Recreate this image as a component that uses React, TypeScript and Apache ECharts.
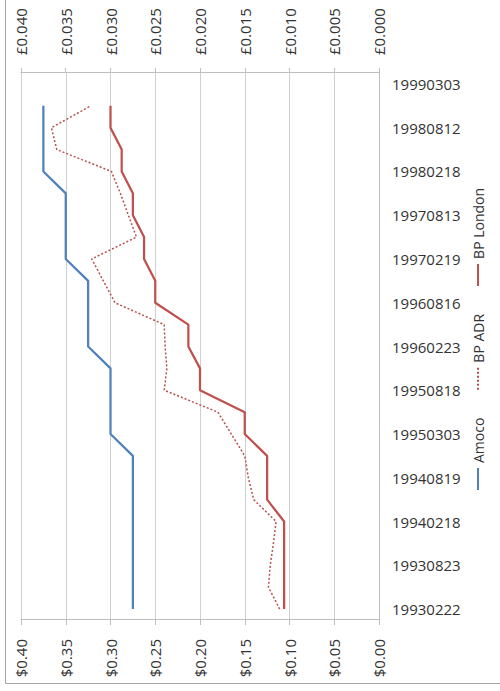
import React, { useEffect, useRef } from "react";
import * as echarts from "echarts";

const categories = [
  "19930222", "19930524", "19930823", "19931122", "19940218", "19940517",
  "19940819", "19941117", "19950303", "19950530", "19950818", "19951117",
  "19960223", "19960520", "19960816", "19961115", "19970219", "19970516",
  "19970813", "19971114", "19980218", "19980515", "19980812", "19981113",
  "19990303",
];

const amoco = [
  0.275, 0.275, 0.275, 0.275, 0.275, 0.275, 0.275, 0.275,
  0.3, 0.3, 0.3, 0.3,
  0.325, 0.325, 0.325, 0.325,
  0.35, 0.35, 0.35, 0.35,
  0.375, 0.375, 0.375, 0.375,
  null,
];

const bpAdr = [
  0.111, 0.1235, 0.1215, 0.118, 0.115, 0.14, 0.146, 0.15, 0.165, 0.18,
  0.24, 0.237, 0.239, 0.24, 0.295, 0.308, 0.321, 0.271, 0.28, 0.289,
  0.299, 0.36, 0.366, 0.322, null,
];

const bpLondon = [
  0.0106, 0.0106, 0.0106, 0.0106, 0.0106,
  0.0125, 0.0125, 0.0125,
  0.015, 0.015,
  0.02, 0.02,
  0.0213, 0.0213,
  0.025, 0.025,
  0.02625, 0.02625,
  0.0275, 0.0275,
  0.02875, 0.02875,
  0.03, 0.03,
  null,
];

const FONT = "'Open Sans', sans-serif";
const TEXT = "#333333";
const SOLID_ICON = "path://M0,0h22v2h-22z";
const DOT_ICON =
  "path://M0,0h2v2h-2zM4,0h2v2h-2zM8,0h2v2h-2zM12,0h2v2h-2zM16,0h2v2h-2zM20,0h2v2h-2z";

export default function App() {
  const ref = useRef<HTMLDivElement>(null);

  useEffect(() => {
    if (!ref.current) return;
    const chart = echarts.init(ref.current, null, { renderer: "svg" });
    chart.setOption({
      animation: false,
      backgroundColor: "#ffffff",
      textStyle: { fontFamily: FONT },
      graphic: [
        {
          type: "rect",
          shape: { x: 7.5, y: 5.5, width: 720, height: 600 },
          style: { fill: "none", stroke: "#a6a6a6", lineWidth: 1 },
          silent: true,
        },
      ],
      grid: { left: 71, right: 73, top: 21, bottom: 121, containLabel: false },
      legend: {
        left: 196,
        top: 466,
        itemWidth: 22,
        itemHeight: 2,
        itemGap: 28,
        textStyle: { fontFamily: FONT, fontSize: 14, color: TEXT },
        data: [
          { name: "Amoco", icon: SOLID_ICON },
          { name: "BP ADR", icon: DOT_ICON },
          { name: "BP London", icon: SOLID_ICON },
        ],
      },
      xAxis: {
        type: "category",
        data: categories,
        boundaryGap: true,
        axisLine: { show: true, lineStyle: { color: "#bfbfbf", width: 1 } },
        axisTick: { show: false },
        axisLabel: {
          interval: 1,
          rotate: -90,
          margin: 13,
          fontFamily: FONT,
          fontSize: 15,
          color: TEXT,
        },
      },
      yAxis: [
        {
          type: "value",
          min: 0,
          max: 0.4,
          interval: 0.05,
          position: "left",
          axisLine: { show: true, lineStyle: { color: "#bfbfbf" } },
          axisTick: { show: true, length: 5, lineStyle: { color: "#bfbfbf" } },
          splitLine: { show: true, lineStyle: { color: "#d0d0d0", width: 1 } },
          axisLabel: {
            margin: 19,
            fontFamily: FONT,
            fontSize: 15,
            color: TEXT,
            formatter: (v: number) => "$" + v.toFixed(2),
          },
        },
        {
          type: "value",
          min: 0,
          max: 0.04,
          interval: 0.005,
          position: "right",
          axisLine: { show: true, lineStyle: { color: "#bfbfbf" } },
          axisTick: { show: true, length: 5, lineStyle: { color: "#bfbfbf" } },
          splitLine: { show: false },
          axisLabel: {
            margin: 18,
            fontFamily: FONT,
            fontSize: 15,
            color: TEXT,
            formatter: (v: number) => "£" + v.toFixed(3),
          },
        },
      ],
      series: [
        {
          name: "Amoco",
          type: "line",
          yAxisIndex: 0,
          data: amoco,
          symbol: "none",
          lineStyle: { color: "#4f81bd", width: 2.25 },
          itemStyle: { color: "#4f81bd" },
        },
        {
          name: "BP ADR",
          type: "line",
          yAxisIndex: 0,
          data: bpAdr,
          symbol: "none",
          lineStyle: { color: "#b5504d", width: 1.5, type: [2, 2] },
          itemStyle: { color: "#b5504d" },
        },
        {
          name: "BP London",
          type: "line",
          yAxisIndex: 1,
          data: bpLondon,
          symbol: "none",
          lineStyle: { color: "#c0504d", width: 2.25 },
          itemStyle: { color: "#c0504d" },
        },
      ],
    });
    return () => chart.dispose();
  }, []);

  return (
    <div
      style={{
        position: "absolute",
        left: 0,
        top: 0,
        width: 500,
        height: 691,
        overflow: "hidden",
        background: "#ffffff",
      }}
    >
      <div
        style={{
          position: "absolute",
          left: 0,
          top: 0,
          width: 691,
          height: 500,
          transformOrigin: "0 0",
          transform: "translateY(691px) rotate(-90deg)",
        }}
      >
        <div ref={ref} style={{ width: 691, height: 500 }} />
      </div>
    </div>
  );
}
